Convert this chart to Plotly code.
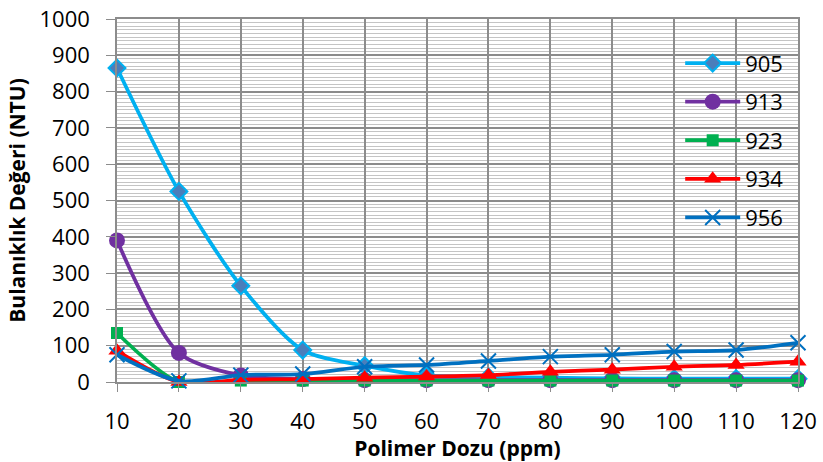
import plotly.graph_objects as go

doses = [10, 20, 30, 40, 50, 60, 70, 80, 90, 100, 110, 120]
s905 = [865, 525, 265, 88, 45, 18, 14, 12, 10, 9, 9, 9]
s913 = [390, 80, 18, 8, 5, 5, 5, 5, 5, 5, 5, 5]
s923 = [135, 0, 4, 4, 4, 4, 4, 4, 4, 4, 4, 4]
s934 = [86, 0, 6, 8, 12, 15, 19, 28, 34, 42, 47, 56]
s956 = [75, 3, 19, 22, 42, 47, 58, 70, 75, 84, 88, 108]

series = [
    ("905", s905, "#00b0f0", dict(symbol="diamond", size=13, color="#4a7ebb", line=dict(color="#00b0f0", width=2))),
    ("913", s913, "#7030a0", dict(symbol="circle", size=16, color="#7030a0")),
    ("923", s923, "#00b050", dict(symbol="square", size=12, color="#00b050")),
    ("934", s934, "#ff0000", dict(symbol="triangle-up", size=15, color="#ff0000")),
    ("956", s956, "#0070c0", dict(symbol="x-thin", size=15, color="#0070c0", line=dict(color="#0070c0", width=2))),
]

fig = go.Figure()
for name, vals, col, mk in series:
    fig.add_trace(go.Scatter(
        x=doses, y=vals, name=name, mode="lines+markers",
        line=dict(color=col, width=3.75, shape="spline", smoothing=0.8),
        marker=mk, legendgroup=name, cliponaxis=False,
    ))

fig.update_layout(
    width=823, height=462,
    margin=dict(l=117, r=25, t=19, b=80),
    paper_bgcolor="white", plot_bgcolor="white",
    font=dict(family="Open Sans, sans-serif", size=22, color="black"),
    showlegend=True,
    legend=dict(
        x=0.827, y=0.936, xanchor="left", yanchor="top",
        bgcolor="rgba(0,0,0,0)", font=dict(size=22),
        tracegroupgap=7, traceorder="grouped",
        itemwidth=55,
    ),
    xaxis=dict(
        range=[10, 120], tickmode="array", tickvals=doses,
        ticktext=[str(d) for d in doses],
        showgrid=True, gridcolor="#8c8c8c", gridwidth=1.5,
        showline=True, linecolor="#8c8c8c", linewidth=1.5, mirror=True,
        ticks="outside", ticklen=8, tickcolor="#8c8c8c",
        ticklabelstandoff=11, automargin=False,
        zeroline=False,
        title=dict(text="<b>Polimer Dozu (ppm)</b>", font=dict(size=21), standoff=3),
    ),
    yaxis=dict(
        range=[0, 1000], dtick=100, tick0=0,
        showgrid=True, gridcolor="#8c8c8c", gridwidth=1.5,
        minor=dict(dtick=10, showgrid=True, gridcolor="#c4c4c4", gridwidth=1),
        showline=True, linecolor="#8c8c8c", linewidth=1.5, mirror=True,
        ticks="outside", ticklen=9, tickcolor="#8c8c8c",
        ticklabelstandoff=12, automargin=False,
        zeroline=False,
        title=dict(text="<b>Bulanıklık Değeri (NTU)</b>", font=dict(size=21), standoff=8),
    ),
)

fig.write_html("out.html", config={"displayModeBar": False},
               post_script="document.body.style.margin='0';")
